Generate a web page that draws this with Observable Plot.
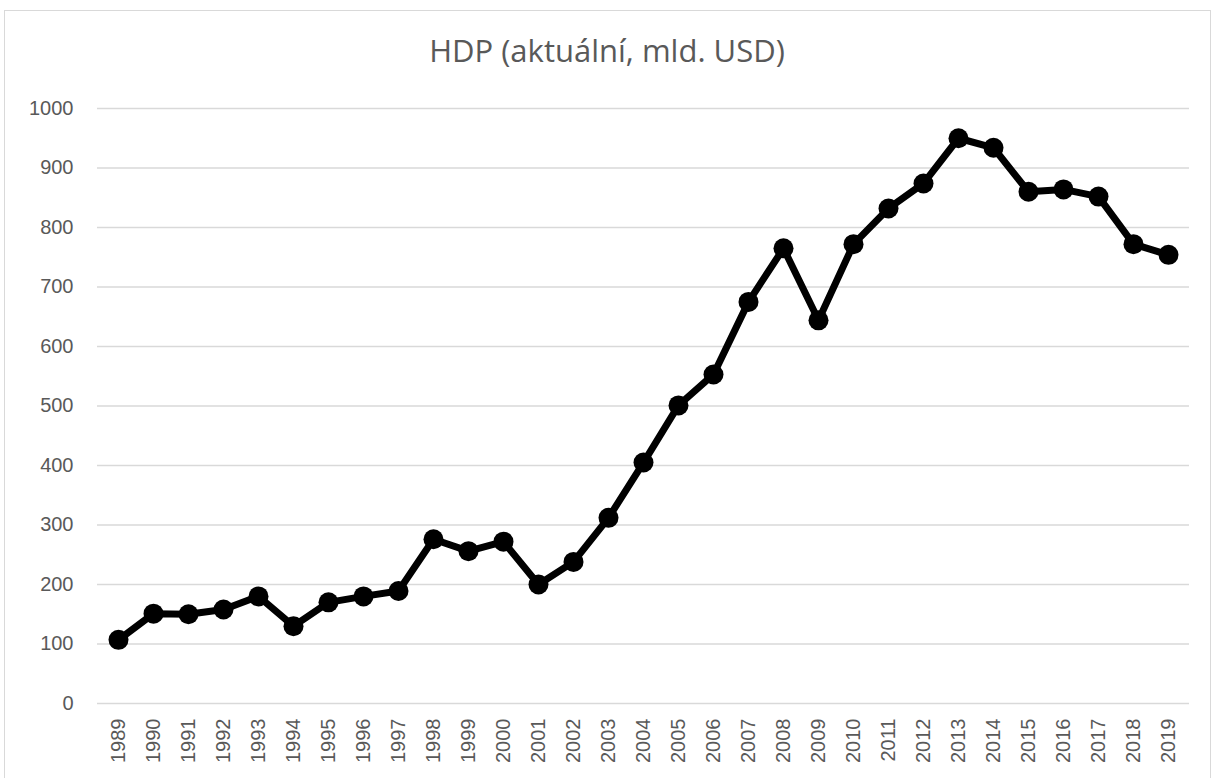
<!DOCTYPE html>
<html><head><meta charset="utf-8">
<script src="https://cdn.jsdelivr.net/npm/d3@7"></script>
<script src="https://cdn.jsdelivr.net/npm/@observablehq/plot@0.6"></script>
<style>
html,body{margin:0;padding:0;background:#fff;overflow:hidden;}
#wrap{position:relative;width:1214px;height:778px;}
#frame{position:absolute;left:4px;top:10px;width:1207px;height:800px;border:1px solid #d9d9d9;box-sizing:border-box;}
#title{position:absolute;left:0;top:28px;width:1214px;text-align:center;font-family:"Open Sans",sans-serif;font-weight:400;font-size:31px;line-height:44px;color:#595959;}
#chart{position:absolute;left:0;top:0;}
</style></head>
<body>
<div id="wrap"><div id="frame"></div><div id="title">HDP (aktuální, mld. USD)</div><div id="chart"></div></div>
<script>
const years = [1989,1990,1991,1992,1993,1994,1995,1996,1997,1998,1999,2000,2001,2002,2003,2004,2005,2006,2007,2008,2009,2010,2011,2012,2013,2014,2015,2016,2017,2018,2019];
const gdp = [107,151,150,158,180,130,170,180,189,276,256,272,200,238,312,405,501,553,675,765,644,772,832,874,950,934,860,864,852,772,754];
const yTicks = [0,100,200,300,400,500,600,700,800,900,1000];

const data = years.map((y,i)=>({year:String(y), value:gdp[i]}));

const chart = Plot.plot({
  width:1214, height:778,
  marginLeft:97, marginRight:25, marginTop:108, marginBottom:75,
  style:{fontFamily:"'Liberation Sans', Arial, sans-serif", fontSize:"20px", color:"#595959", background:"transparent"},
  x:{type:"point", domain:years.map(String), padding:0.5, label:null},
  y:{domain:[0,1000], label:null},
  marks:[
    Plot.ruleY(yTicks,{stroke:"#d9d9d9", strokeWidth:1.3}),
    Plot.axisY({ticks:yTicks, tickFormat:d=>String(d), tickSize:0, tickPadding:24, fontSize:20, fill:"#595959"}),
    Plot.axisX({tickSize:0, tickRotate:-90, tickPadding:15, fontSize:20, fill:"#595959"}),
    Plot.line(data,{x:"year", y:"value", stroke:"#000", strokeWidth:7, strokeLinejoin:"round"}),
    Plot.dot(data,{x:"year", y:"value", r:10, fill:"#000", stroke:"none"})
  ]
});
document.getElementById("chart").appendChild(chart);
</script>
</body></html>
